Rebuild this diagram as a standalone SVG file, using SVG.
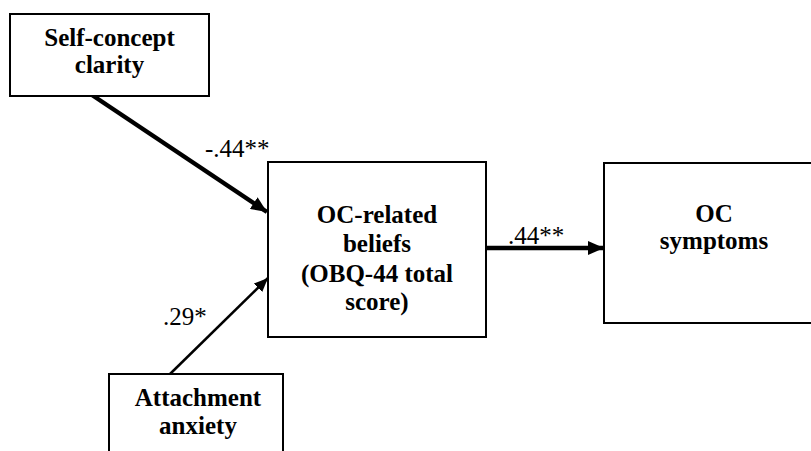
<svg xmlns="http://www.w3.org/2000/svg" width="811" height="451" viewBox="0 0 811 451">
<style>
.box{fill:#fff;stroke:#000;stroke-width:2}
.t{font-family:"Liberation Serif","Times New Roman",serif;font-size:25px;font-weight:bold;text-anchor:middle;fill:#000}
.lbl{font-family:"Liberation Serif","Times New Roman",serif;font-size:25px;fill:#000}
.c{stroke:#000;fill:none}
</style>
<defs>
<marker id="ah" markerUnits="userSpaceOnUse" markerWidth="18" markerHeight="14" refX="16" refY="7" orient="auto">
<path d="M0,0 L16,7 L0,14 Z" fill="#000"/>
</marker>
<marker id="ahs" markerUnits="userSpaceOnUse" markerWidth="16" markerHeight="12" refX="14" refY="6" orient="auto">
<path d="M0,0 L14,6 L0,12 Z" fill="#000"/>
</marker>
</defs>
<rect width="811" height="451" fill="#fff"/>
<g id="connectors">
<line class="c" x1="92" y1="95" x2="267" y2="212" stroke-width="4.5" marker-end="url(#ah)"/>
<line class="c" x1="169" y1="375" x2="268" y2="278" stroke-width="2.5" marker-end="url(#ahs)"/>
<line class="c" x1="486" y1="248" x2="604" y2="248" stroke-width="4.5" marker-end="url(#ah)"/>
<text class="lbl" x="205" y="157">-.44**</text>
<text class="lbl" x="163" y="325">.29*</text>
<text class="lbl" x="508" y="244">.44**</text>
</g>
<g id="self-concept">
<rect class="box" x="10" y="14" width="199" height="82"/>
<text class="t" x="109.5" y="46">Self-concept</text>
<text class="t" x="109.5" y="73">clarity</text>
</g>
<g id="oc-beliefs">
<rect class="box" x="268" y="162" width="218" height="175"/>
<text class="t" x="377" y="223">OC-related</text>
<text class="t" x="377" y="252">beliefs</text>
<text class="t" x="377" y="282">(OBQ-44 total</text>
<text class="t" x="377" y="310">score)</text>
</g>
<g id="oc-symptoms">
<rect class="box" x="604" y="163" width="230" height="160"/>
<text class="t" x="714" y="222">OC</text>
<text class="t" x="714" y="249">symptoms</text>
</g>
<g id="attachment">
<rect class="box" x="109" y="374" width="174" height="100"/>
<text class="t" x="198" y="406">Attachment</text>
<text class="t" x="198" y="434">anxiety</text>
</g>
</svg>
